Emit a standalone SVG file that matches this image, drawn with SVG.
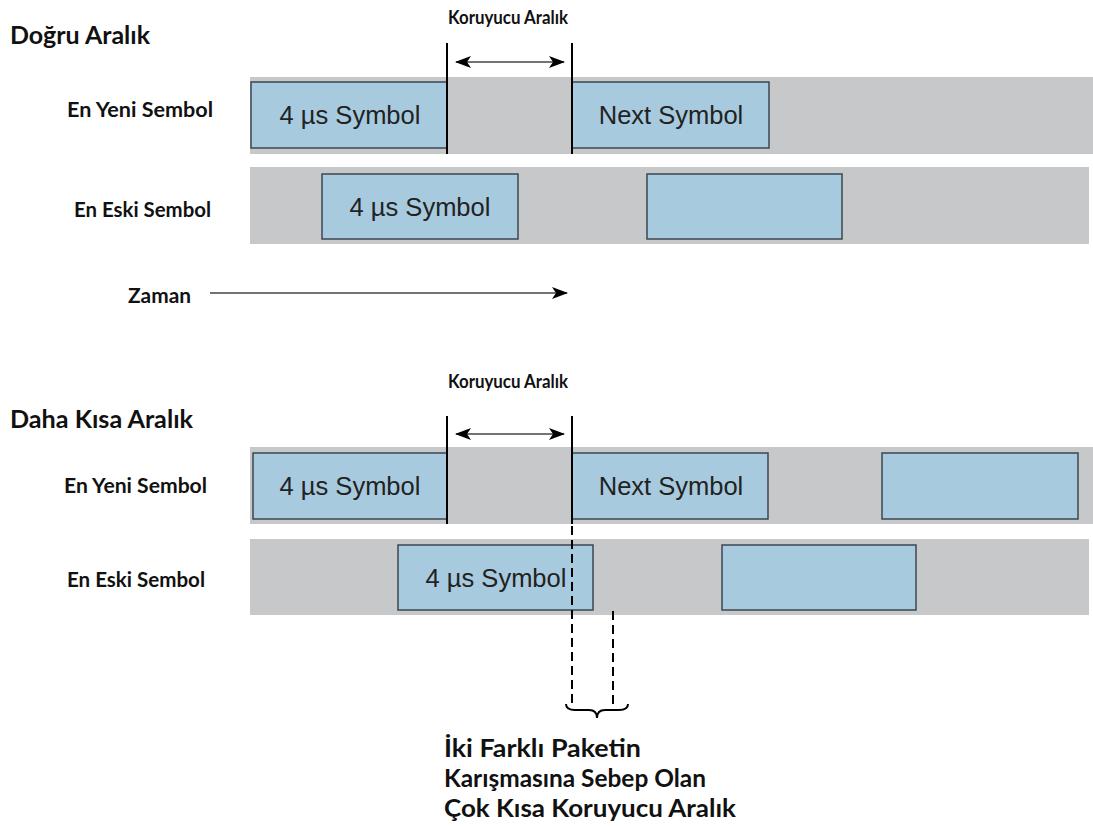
<svg xmlns="http://www.w3.org/2000/svg" width="1093" height="828" viewBox="0 0 1093 828">
  <defs>
    <marker id="head" viewBox="0 0 16 12" refX="15" refY="6" markerWidth="16" markerHeight="12" markerUnits="userSpaceOnUse" orient="auto-start-reverse">
      <path d="M0,0 L16,6 L0,12 L4,6 Z" fill="#000"/>
    </marker>
  </defs>
  <style>
    .band { fill: #c7c8ca; }
    .sym { fill: #a8cade; stroke: #3c4650; stroke-width: 1.5; }
    .symtxt { font-family: "Liberation Sans", Arial, sans-serif; font-size: 25.5px; fill: #222; text-anchor: middle; }
    .lbl { font-family: Lato, "Open Sans", "DejaVu Sans", sans-serif; font-weight: bold; fill: #111; }
    .title { font-size: 24px; }
    .row { font-size: 20px; }
    .gi { font-size: 18.5px; }
    .note { font-size: 24px; }
    .edge { stroke: #000; stroke-width: 2; fill: none; }
    .dash { stroke: #000; stroke-width: 2; stroke-dasharray: 9 5; fill: none; }
    .arrow { stroke: #444; stroke-width: 1.6; fill: none; }
  </style>

  <!-- Correct guard interval -->
  <g id="title-top">
    <text class="lbl title" x="10" y="44" textLength="140" lengthAdjust="spacingAndGlyphs">Doğru Aralık</text>
  </g>
  <g id="gi-label-top">
    <text class="lbl gi" x="448" y="24" textLength="120" lengthAdjust="spacingAndGlyphs">Koruyucu Aralık</text>
  </g>
  <g id="newest-row-top">
    <text class="lbl row" x="67" y="117" textLength="146" lengthAdjust="spacingAndGlyphs">En Yeni Sembol</text>
    <rect class="band" x="250" y="77" width="843" height="77"/>
    <rect class="sym" x="251" y="82" width="196" height="66"/>
    <text class="symtxt" x="350" y="124">4 µs Symbol</text>
    <rect class="sym" x="572" y="82" width="197" height="66"/>
    <text class="symtxt" x="671" y="124">Next Symbol</text>
  </g>
  <g id="oldest-row-top">
    <text class="lbl row" x="74" y="217" textLength="137" lengthAdjust="spacingAndGlyphs">En Eski Sembol</text>
    <rect class="band" x="250" y="167" width="839" height="77"/>
    <rect class="sym" x="322" y="174" width="196" height="65"/>
    <text class="symtxt" x="420" y="216">4 µs Symbol</text>
    <rect class="sym" x="647" y="174" width="195" height="65"/>
  </g>
  <g id="time-axis">
    <text class="lbl row" x="128" y="303" textLength="63" lengthAdjust="spacingAndGlyphs">Zaman</text>
  </g>

  <!-- Shorter guard interval -->
  <g id="title-bottom">
    <text class="lbl title" x="10" y="428" textLength="183" lengthAdjust="spacingAndGlyphs">Daha Kısa Aralık</text>
  </g>
  <g id="gi-label-bottom">
    <text class="lbl gi" x="448" y="388" textLength="120" lengthAdjust="spacingAndGlyphs">Koruyucu Aralık</text>
  </g>
  <g id="newest-row-bottom">
    <text class="lbl row" x="64" y="493" textLength="143" lengthAdjust="spacingAndGlyphs">En Yeni Sembol</text>
    <rect class="band" x="250" y="447" width="843" height="77"/>
    <rect class="sym" x="253" y="453" width="194" height="66"/>
    <text class="symtxt" x="350" y="495">4 µs Symbol</text>
    <rect class="sym" x="572" y="453" width="196" height="66"/>
    <text class="symtxt" x="671" y="495">Next Symbol</text>
    <rect class="sym" x="882" y="453" width="196" height="66"/>
  </g>
  <g id="oldest-row-bottom">
    <text class="lbl row" x="67" y="587" textLength="138" lengthAdjust="spacingAndGlyphs">En Eski Sembol</text>
    <rect class="band" x="250" y="539" width="839" height="76"/>
    <rect class="sym" x="398" y="545" width="195" height="65"/>
    <text class="symtxt" x="496" y="587">4 µs Symbol</text>
    <rect class="sym" x="722" y="545" width="194" height="65"/>
  </g>
  <g id="overlap-note">
    <text class="lbl note" x="444" y="757" textLength="197" lengthAdjust="spacingAndGlyphs">İki Farklı Paketin</text>
    <text class="lbl note" x="444" y="787" textLength="262" lengthAdjust="spacingAndGlyphs">Karışmasına Sebep Olan</text>
    <text class="lbl note" x="444" y="817" textLength="292" lengthAdjust="spacingAndGlyphs">Çok Kısa Koruyucu Aralık</text>
  </g>

  <g id="connectors">
    <!-- guard interval boundaries, top -->
    <line class="edge" x1="447" y1="43" x2="447" y2="154"/>
    <line class="edge" x1="572" y1="43" x2="572" y2="154"/>
    <line class="arrow" x1="456" y1="62" x2="564" y2="62" marker-start="url(#head)" marker-end="url(#head)"/>
    <!-- time axis -->
    <line class="arrow" x1="210" y1="293" x2="567" y2="293" marker-end="url(#head)"/>
    <!-- guard interval boundaries, bottom -->
    <line class="edge" x1="447" y1="416" x2="447" y2="524"/>
    <line class="edge" x1="572" y1="416" x2="572" y2="524"/>
    <line class="arrow" x1="456" y1="434" x2="564" y2="434" marker-start="url(#head)" marker-end="url(#head)"/>
    <!-- overlap markers -->
    <line class="dash" x1="572" y1="526" x2="572" y2="705"/>
    <line class="dash" x1="613" y1="611" x2="613" y2="705"/>
    <!-- curly brace under the overlap window -->
    <path class="edge" d="M566,704 Q566,710 575,710 L589,710 Q597,710 597,718 Q597,710 605,710 L619,710 Q628,710 628,704" stroke-width="2.8"/>
  </g>
</svg>
